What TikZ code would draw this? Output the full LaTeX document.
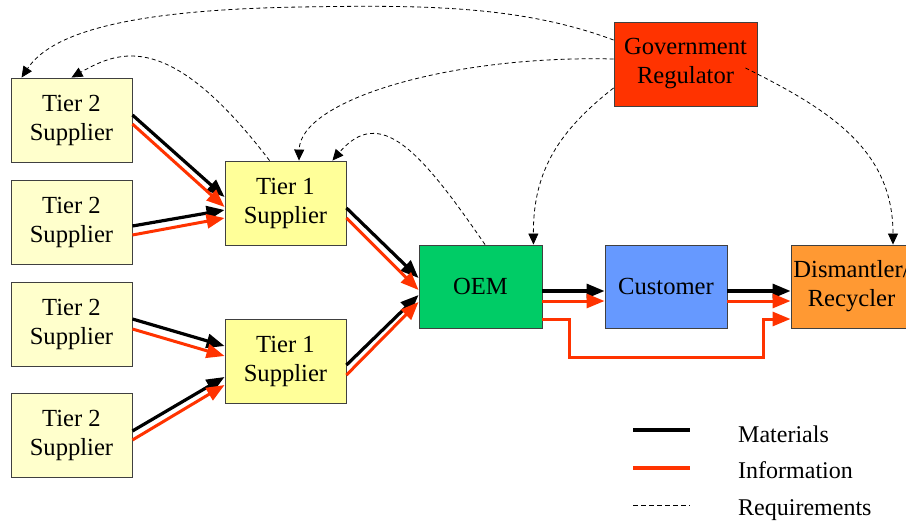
\documentclass[tikz,border=0pt]{standalone}
\usepackage{fontspec}
\setmainfont{Liberation Serif}
\usetikzlibrary{calc,arrows.meta}

\definecolor{paleyellow}{HTML}{FFFFCC}
\definecolor{lightyellow}{HTML}{FFFF99}
\definecolor{oemgreen}{HTML}{00CC66}
\definecolor{custblue}{HTML}{6699FF}
\definecolor{recorange}{HTML}{FF9933}
\definecolor{govred}{HTML}{FF3300}

\tikzset{
  box/.style={draw=black!75,line width=0.9pt,minimum width=121pt,minimum height=84pt,
    inner sep=0pt,align=center,font=\fontsize{24.6}{29}\selectfont},
  mat/.style={line width=3.2pt,-{Triangle[length=18pt,width=14pt]}},
  info/.style={line width=3pt,color=govred,-{Triangle[length=18pt,width=14pt]}},
  req/.style={line width=0.8pt,dash pattern=on 4pt off 3pt,-{Triangle[length=11pt,width=10pt]}},
  legend/.style={anchor=base west,inner sep=0pt,font=\fontsize{24}{28}\selectfont},
}

\begin{document}
\begin{tikzpicture}[x=1pt,y=-1pt]
\useasboundingbox (0,0) rectangle (906,523);
\clip (0,0) rectangle (906,523);

\node[box,fill=paleyellow] (t2a) at (71.5,120) {Tier 2\\Supplier};
\node[box,fill=paleyellow] (t2b) at (71.5,222) {Tier 2\\Supplier};
\node[box,fill=paleyellow] (t2c) at (71.5,324) {Tier 2\\Supplier};
\node[box,fill=paleyellow] (t2d) at (71.5,435) {Tier 2\\Supplier};
\node[box,fill=lightyellow] (t1a) at (285.5,203) {Tier 1\\Supplier};
\node[box,fill=lightyellow] (t1b) at (285.5,361) {Tier 1\\Supplier};
\node[box,fill=oemgreen,minimum width=123pt,minimum height=83pt] (oem) at (480.5,286.5) {OEM};
\node[box,fill=custblue,minimum width=122pt,minimum height=83pt] (cust) at (666,286.5) {Customer};
\node[box,fill=recorange,minimum height=83pt] (dis) at (851.5,286.5) {Dismantler/\\Recycler};
\node[box,fill=govred,minimum width=143pt] (gov) at (685.5,64) {Government\\Regulator};

% materials and information
\draw[mat] ($(t2a.east)+(0,-5)$) -- ($(t1a.west)+(0,-6)$);
\draw[info] ($(t2a.east)+(0,4)$) -- ($(t1a.west)+(0,4)$);
\draw[mat] ($(t2b.east)+(0,4)$) -- ($(t1a.west)+(0,7)$);
\draw[info] ($(t2b.east)+(0,13)$) -- ($(t1a.west)+(0,15)$);
\draw[mat] ($(t2c.east)+(0,-5)$) -- ($(t1b.west)+(0,-15)$);
\draw[info] ($(t2c.east)+(0,5)$) -- ($(t1b.west)+(0,-5)$);
\draw[mat] ($(t2d.east)+(0,-4)$) -- ($(t1b.west)+(0,16)$);
\draw[info] ($(t2d.east)+(0,5)$) -- ($(t1b.west)+(0,24)$);
\draw[mat] ($(t1a.east)+(0,5)$) -- ($(oem.west)+(0,-8.5)$);
\draw[info] ($(t1a.east)+(0,15)$) -- ($(oem.west)+(0,3.5)$);
\draw[mat] ($(t1b.east)+(0,4)$) -- ($(oem.west)+(0,8.5)$);
\draw[info] ($(t1b.east)+(0,14)$) -- ($(oem.west)+(0,15.5)$);
\draw[mat] ($(oem.east)+(0,4.5)$) -- ($(cust.west)+(0,4.5)$);
\draw[info] ($(oem.east)+(0,14.5)$) -- ($(cust.west)+(0,14.5)$);
\draw[mat] ($(cust.east)+(0,4.5)$) -- ($(dis.west)+(0,4.5)$);
\draw[info] ($(cust.east)+(0,14.5)$) -- ($(dis.west)+(0,14.5)$);
\draw[info] ($(oem.east)+(0,32.5)$) -- ++(27,0) -- ++(0,38) -- ++(194,0) -- ++(0,-38)
  -- ($(dis.west)+(0,32.5)$);

% requirements
\draw[req] ($(gov.west)+(0,-24)$) .. controls (520,5) and (420,5) .. (300,7)
  .. controls (120,10) and (50,35) .. ($(t2a.north west)+(11,0)$);
\draw[req] ($(t1a.north west)+(45,0)$) .. controls (170,30) and (120,50) .. (t2a.north);
\draw[req] ($(gov.west)+(0,-5)$) .. controls (450,55) and (300,100) .. ($(t1a.north)+(13.5,0)$);
\draw[req] ($(oem.north)+(4.5,0)$) .. controls (420,150) and (380,105) .. ($(t1a.north east)+(-14,0)$);
\draw[req] ($(gov.west)+(0,24)$) .. controls (560,130) and (533,170) .. ($(oem.north east)+(-9,0)$);
\draw[req] ($(gov.east)+(-12,4)$) .. controls (830,110) and (893,150) .. ($(dis.north)+(41.5,0)$);

% legend
\node[legend] (lmat) at (738,442) {Materials};
\node[legend] (linfo) at (738,478) {Information};
\node[legend] (lreq) at (738,515) {Requirements};
\draw[line width=3.5pt] (633,430) -- (690,430);
\draw[line width=3.5pt,govred] (633,468) -- (690,468);
\draw[line width=0.8pt,dash pattern=on 5pt off 3pt] (633,505) -- (690,505);
\end{tikzpicture}
\end{document}
